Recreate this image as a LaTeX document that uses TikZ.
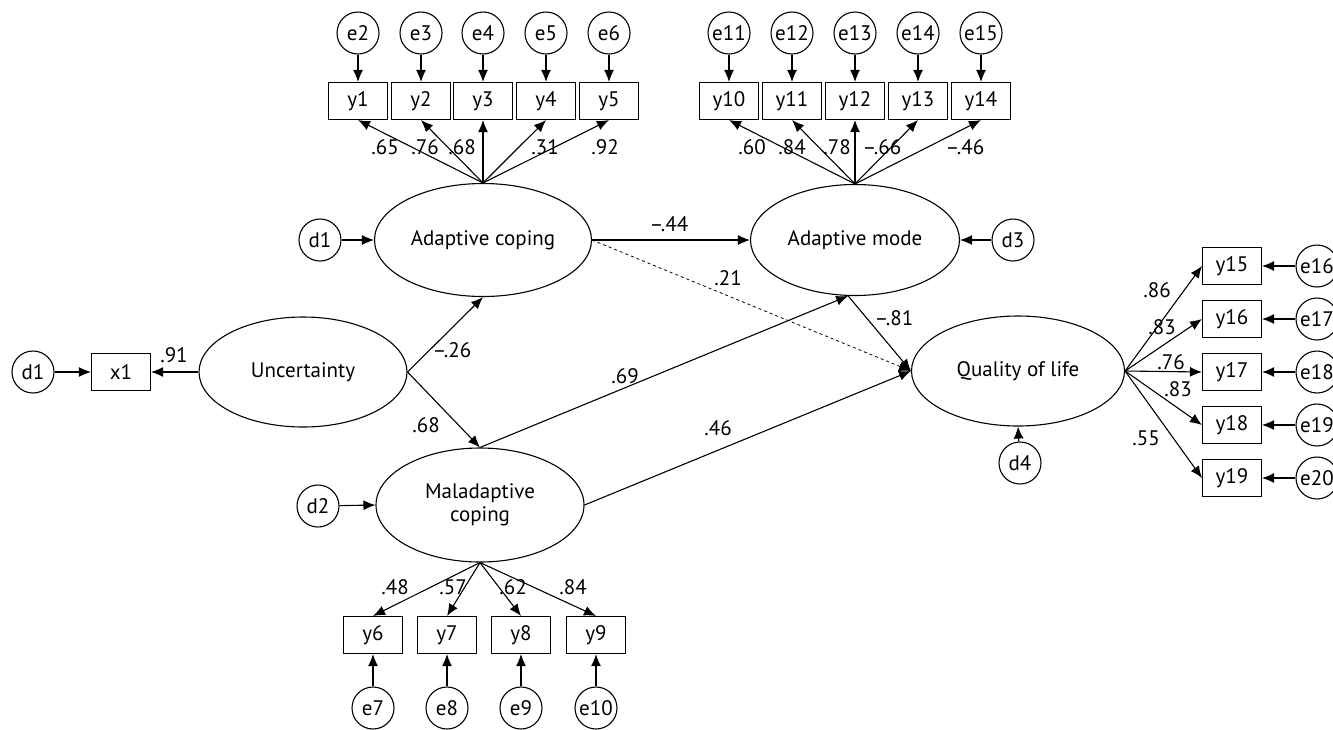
\documentclass[tikz,border=0pt]{standalone}
\usepackage{fontspec}
\setmainfont{PT Sans}
\usetikzlibrary{shapes.geometric,arrows.meta}

\begin{document}
\begin{tikzpicture}[x=1pt,y=-1pt,line width=1.1pt,
  every node/.style={font=\fontsize{21}{23}\selectfont},
  lat/.style={draw,ellipse,inner sep=0pt,align=center,minimum width=210pt,minimum height=112pt},
  obs/.style={draw,rectangle,minimum width=59pt,minimum height=37pt,inner sep=0pt},
  err/.style={draw,circle,minimum size=42pt,inner sep=0pt},
  coef/.style={inner sep=1pt},
  arr/.style={-{Latex[length=12pt,width=10pt]}},
]
\useasboundingbox (0,0) rectangle (1333,729);

% latent variables
\node[lat,minimum width=217pt,minimum height=113pt] (ac) at (483,240) {Adaptive coping};
\node[lat,minimum width=209pt,minimum height=111pt] (am) at (855,240) {Adaptive mode};
\node[lat,minimum width=208pt,minimum height=110pt] (unc) at (303,372) {Uncertainty};
\node[lat,minimum width=208pt,minimum height=114pt] (mal) at (480,505) {Maladaptive\\coping};
\node[lat,minimum width=213pt,minimum height=110pt] (qol) at (1018,371) {Quality of life};

% disturbances
\node[err] (d1a) at (33,372) {d1};
\node[err] (d1b) at (320,240) {d1};
\node[err] (d2) at (318,506) {d2};
\node[err] (d3) at (1013,240) {d3};
\node[err] (d4) at (1020,463) {d4};
\node[obs] (x1) at (121,372) {x1};

\draw[arr] (d1a) -- (x1);
\draw[arr] (unc.west) -- (x1.east);
\draw[arr] (d1b) -- (ac.west);
\draw[arr] (d2) -- (mal.west);
\draw[arr] (d3) -- (am.east);
\draw[arr] (d4) -- (qol.south);

% Adaptive coping indicators
\foreach \i/\x in {1/358,2/421,3/483,4/546,5/609}{
  \pgfmathtruncatemacro\e{\i+1}
  \node[obs] (y\i) at (\x,101) {y\i};
  \node[err] (e\e) at (\x,33) {e\e};
  \draw[arr] (e\e) -- (y\i);
  \draw[arr] (ac.north) -- (y\i.south);
}
% Adaptive mode indicators
\foreach \i/\x in {10/729,11/792,12/855,13/918,14/981}{
  \pgfmathtruncatemacro\e{\i+1}
  \node[obs] (y\i) at (\x,101) {y\i};
  \node[err] (e\e) at (\x,33) {e\e};
  \draw[arr] (e\e) -- (y\i);
  \draw[arr] (am.north) -- (y\i.south);
}
% Maladaptive coping indicators
\foreach \i/\x in {6/373,7/447,8/521,9/596}{
  \pgfmathtruncatemacro\e{\i+1}
  \node[obs] (y\i) at (\x,635) {y\i};
  \node[err] (e\e) at (\x,708) {e\e};
  \draw[arr] (e\e) -- (y\i);
  \draw[arr] (mal.south) -- (y\i.north);
}
% Quality of life indicators
\foreach \i/\y in {15/266,16/319,17/372,18/425,19/478}{
  \pgfmathtruncatemacro\e{\i+1}
  \node[obs] (y\i) at (1232,\y) {y\i};
  \node[err] (e\e) at (1317,\y) {e\e};
  \draw[arr] (e\e) -- (y\i);
  \draw[arr] (qol.east) -- (y\i.west);
}

% structural paths
\draw[arr] (unc.east) -- (ac.south);
\draw[arr] (unc.east) -- (mal.north);
\draw[arr] (ac.east) -- (am.west);
\draw[arr,dashed,line width=0.8pt] (ac.east) -- (qol.west);
\draw[arr] (mal.north) -- (am.263);
\draw[arr] (am.263) -- (qol.west);
\draw[arr] (mal.east) -- (qol.west);

% coefficients
\node[coef] (c1) at (385,147) {.65};
\node[coef] (c2) at (425,147) {.76};
\node[coef] (c3) at (462,147) {.68};
\node[coef] (c4) at (545,147) {.31};
\node[coef] (c5) at (605,147) {.92};
\node[coef] (c10) at (752,147) {.60};
\node[coef] (c11) at (792,147) {.84};
\node[coef] (c12) at (837,147) {.78};
\node[coef] (c13) at (882,147) {–.66};
\node[coef] (c14) at (965,147) {–.46};
\node[coef] (c6) at (395,587) {.48};
\node[coef] (c7) at (453,587) {.57};
\node[coef] (c8) at (513,587) {.62};
\node[coef] (c9) at (573,587) {.84};
\node[coef] (c15) at (1157,290) {.86};
\node[coef] (c16) at (1162,327) {.83};
\node[coef] (c17) at (1171,362) {.76};
\node[coef] (c18) at (1178,389) {.83};
\node[coef] (c19) at (1146,438) {.55};
\node[coef] (cx1) at (174,355) {.91};
\node[coef] (cac) at (452,350) {–.26};
\node[coef] (cmal) at (426,425) {.68};
\node[coef] (cam) at (669,224) {–.44};
\node[coef] (cdash) at (728,278) {.21};
\node[coef] (cq) at (894,318) {–.81};
\node[coef] (cma) at (625,376) {.69};
\node[coef] (cmq) at (718,428) {.46};
\end{tikzpicture}
\end{document}
